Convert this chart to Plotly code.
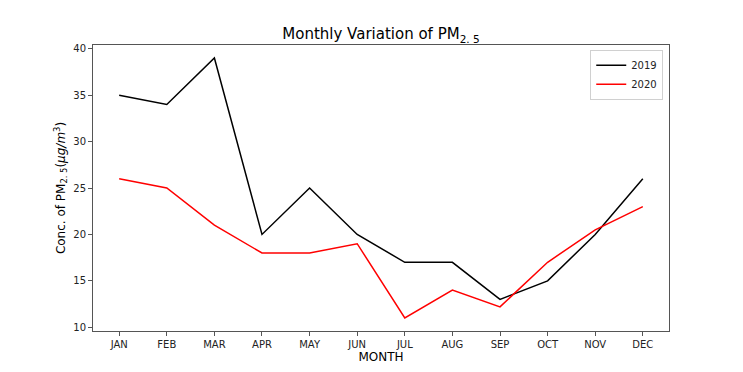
import plotly.graph_objects as go

months = ["JAN", "FEB", "MAR", "APR", "MAY", "JUN", "JUL", "AUG", "SEP", "OCT", "NOV", "DEC"]
pm_2019 = [35, 34, 39, 20, 25, 20, 17, 17, 13, 15, 20, 26]
pm_2020 = [26, 25, 21, 18, 18, 19, 11, 14, 12.2, 17, 20.5, 23]
y_ticks = [10, 15, 20, 25, 30, 35, 40]

fig = go.Figure()
fig.add_trace(go.Scatter(x=months, y=pm_2019, mode="lines", name="2019",
                         line=dict(color="black", width=1.5)))
fig.add_trace(go.Scatter(x=months, y=pm_2020, mode="lines", name="2020",
                         line=dict(color="red", width=1.5)))

font = "DejaVu Sans"
fig.update_layout(
    width=743, height=372,
    paper_bgcolor="white", plot_bgcolor="white",
    margin=dict(l=93, r=74, t=45, b=41, autoexpand=False),
    font=dict(family=font, size=10, color="#222"),
    title=dict(text="Monthly Variation of PM<sub>2. 5</sub>", x=0.5, xanchor="center",
               xref="paper", y=0.908, yanchor="middle", font=dict(size=15, color="black")),
    showlegend=True,
    legend=dict(x=0.99, y=0.983, xanchor="right", yanchor="top",
                bgcolor="white", bordercolor="#d0d0d0", borderwidth=1,
                font=dict(size=10, color="#222"), tracegroupgap=0,
                itemwidth=30),
)
fig.update_xaxes(
    type="category", range=[-0.55, 11.55], automargin=False,
    showline=True, linecolor="#555", linewidth=1, mirror=True,
    ticks="outside", ticklen=4, tickcolor="#555", showgrid=False, zeroline=False,
    title=dict(text="MONTH", font=dict(size=12, color="black"), standoff=2),
    tickfont=dict(size=10, color="#222"),
)
fig.update_yaxes(
    range=[9.6, 40.4], tickvals=y_ticks, automargin=False,
    showline=True, linecolor="#555", linewidth=1, mirror=True,
    ticks="outside", ticklen=4, tickcolor="#555", showgrid=False, zeroline=False,
    title=dict(text="Conc. of PM<sub>2. 5</sub>(<i>μg/m</i><sup>3</sup>)",
               font=dict(size=12, color="black"), standoff=5),
    tickfont=dict(size=10, color="#222"),
)

fig.write_html("out.html", config={"displayModeBar": False},
               post_script="document.body.style.margin='0';document.body.style.overflow='hidden';")
